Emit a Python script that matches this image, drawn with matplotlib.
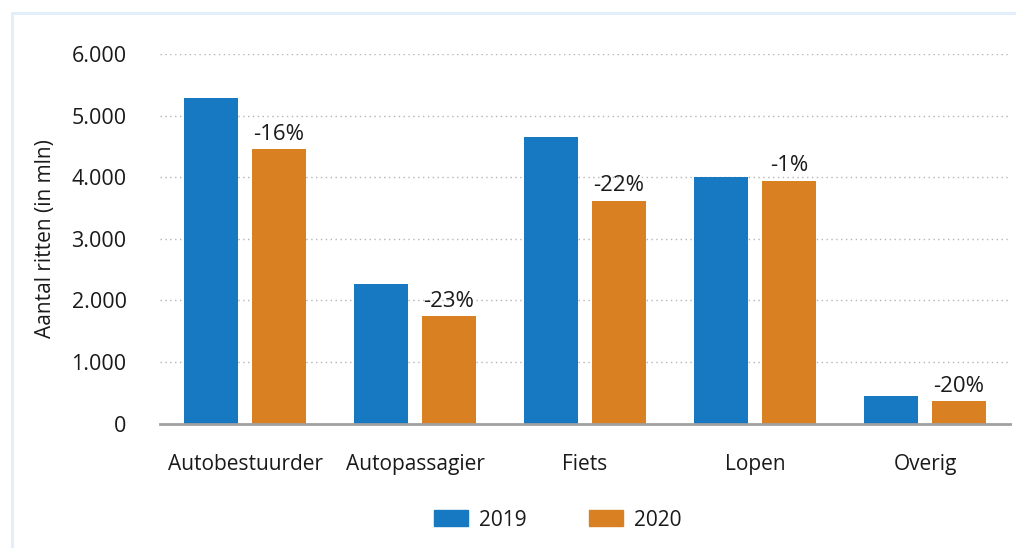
import numpy as np
import matplotlib.pyplot as plt
from matplotlib.patches import Patch, Rectangle

plt.rcParams['font.family'] = ['Open Sans', 'DejaVu Sans']

categories = ["Autobestuurder", "Autopassagier", "Fiets", "Lopen", "Overig"]
ritten_2019 = [5280, 2270, 4660, 4010, 450]
ritten_2020 = [4450, 1750, 3620, 3945, 365]
change_labels = ["-16%", "-23%", "-22%", "-1%", "-20%"]
yticks = [0, 1000, 2000, 3000, 4000, 5000, 6000]
ytick_labels = ["0", "1.000", "2.000", "3.000", "4.000", "5.000", "6.000"]

blue = "#1679c1"
orange = "#d88022"
txt = "#1a1a1a"

W, H = 1016, 548
fig = plt.figure(figsize=(W / 100, H / 100), dpi=100)
ax = fig.add_axes([160 / W, (H - 423.5) / H, 850 / W, (423.5 - 54) / H])

x = np.arange(len(categories))
bw = 0.32
off = 0.199
ax.bar(x - off, ritten_2019, bw, color=blue, zorder=3)
ax.bar(x + off, ritten_2020, bw, color=orange, zorder=3)

for xi, v, lab in zip(x, ritten_2020, change_labels):
    ax.annotate(lab, (xi + off, v), xytext=(0, 3), textcoords="offset points",
                ha="center", va="bottom", fontsize=16, color=txt)

ax.set_xlim(-0.5, 4.5)
ax.set_ylim(0, 6000)
ax.set_yticks(yticks)
ax.set_yticklabels(ytick_labels)
ax.set_xticks(x)
ax.set_xticklabels(categories)
ax.tick_params(axis="y", length=0, pad=24, labelsize=15.5, labelcolor=txt)
ax.tick_params(axis="x", length=0, pad=22, labelsize=15, labelcolor=txt)
ax.grid(axis="y", linestyle=(0, (1, 2.5)), color="#b5b5b5", linewidth=1, zorder=0)
for s in ["top", "right", "left"]:
    ax.spines[s].set_visible(False)
ax.spines["bottom"].set_color("#a0a0a0")
ax.spines["bottom"].set_linewidth(2)
ax.spines["bottom"].set_zorder(4)

ax.set_ylabel("Aantal ritten (in mln)", fontsize=15, color=txt)
ax.yaxis.set_label_coords(-0.122, 0.5)

handles = [Patch(color=blue, label="2019"), Patch(color=orange, label="2020")]
fig.legend(handles=handles, loc="center", bbox_to_anchor=(558 / W, 1 - 520 / H),
           ncol=2, frameon=False, fontsize=15, handlelength=1.6, handleheight=0.78,
           handletextpad=0.55, columnspacing=3.0, labelcolor=txt)

fig.patches.append(Rectangle((11.5 / W, -0.1), 1.2, 1.1 - 13 / H,
                             transform=fig.transFigure, fill=False,
                             edgecolor="#e2eef9", linewidth=2.2))

fig.savefig("out.png", dpi=100)
